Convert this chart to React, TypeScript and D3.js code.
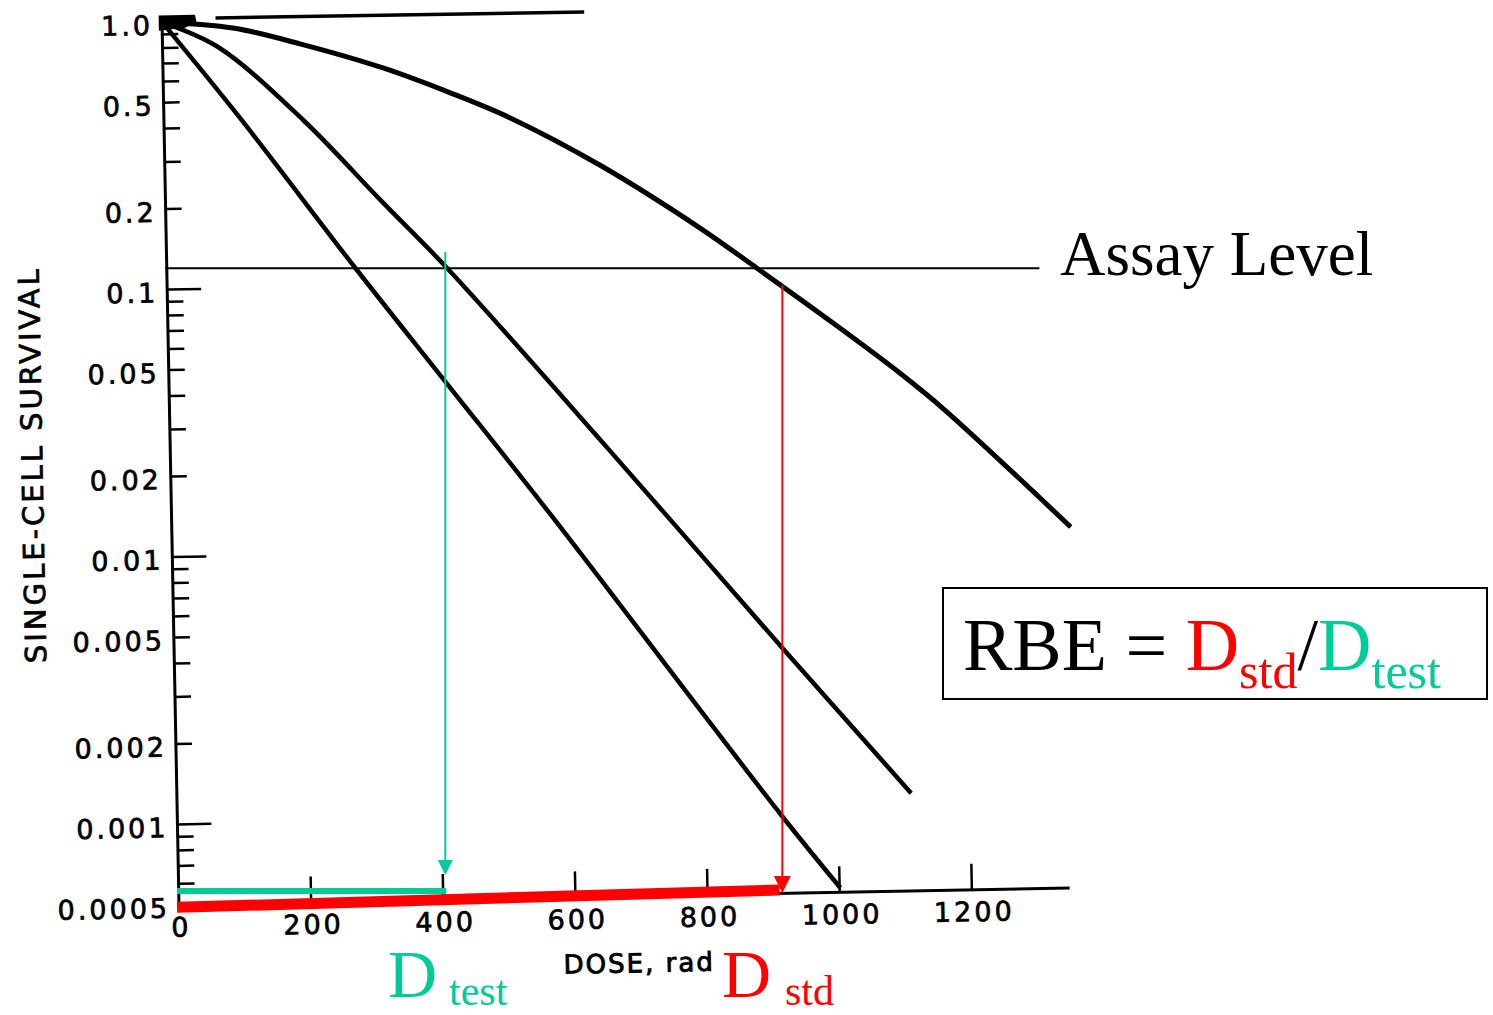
import React from "react";
import * as d3 from "d3";

// ---- data (dose in rad, single-cell survival fraction) ----
const steepCurve: [number, number][] = [
  [0, 1.0], [116, 0.43], [285, 0.117], [419, 0.043], [572, 0.0137], [914, 0.00098], [1001, 0.00052],
];
const middleCurve: [number, number][] = [
  [0, 1.0], [84, 0.8], [211, 0.42], [325, 0.209], [424, 0.115], [664, 0.0234], [919, 0.00417], [1111, 0.00116],
];
const shoulderCurve: [number, number][] = [
  [0, 1.0], [107, 0.94], [208, 0.811], [333, 0.65], [434, 0.519], [524, 0.414], [658, 0.272],
  [808, 0.1555], [893, 0.109], [1006, 0.0673], [1106, 0.0432], [1173, 0.0312], [1360, 0.01117],
];
const topLine: [number, number][] = [[81, 1.028], [639, 1.018]];
const originBlob: [number, number][] = [[-5, 1.06], [50, 1.06], [52, 1.0], [35, 0.95], [-5, 0.93]];

const yMajorTicks = [1.0, 0.5, 0.2, 0.1, 0.05, 0.02, 0.01, 0.005, 0.002, 0.001, 0.0005];
const yTickLabels = ["1.0", "0.5", "0.2", "0.1", "0.05", "0.02", "0.01", "0.005", "0.002", "0.001", "0.0005"];
const yDecadeTicks = [0.1, 0.01, 0.001];
const yMinorTicks = [
  0.9, 0.8, 0.7, 0.6, 0.4, 0.3,
  0.09, 0.08, 0.07, 0.06, 0.04, 0.03,
  0.009, 0.008, 0.007, 0.006, 0.004, 0.003,
  0.0009, 0.0008, 0.0007, 0.0006,
];
const xTicks = [0, 200, 400, 600, 800, 1000, 1200];
const xTickLabels = ["0", "200", "400", "600", "800", "1000", "1200"];
const xAxisEnd = 1348;
const yAxisTop = 1.03;

// overlay annotations
const assayLevel = 0.12;
const assaySpan = [-21, 1302];
const dTest = 403;
const dStd = 913;
const greenArrowTop = 0.138;
const greenArrowTip = 0.000647;
const redArrowTop = 0.104;
const redArrowTip = 0.000555;
const greenBarLevel = 0.000564;
const redBar: [number, number][] = [[0, 0.00049], [909, 0.000569]];

const GREEN = "#00CC99";
const RED = "#FF0000";

export default function App() {
  const W = 1493, H = 1015;
  const x = d3.scaleLinear().domain([0, 1200]).range([179, 972]);
  const y = d3.scaleLog().domain([0.0005, 1]).range([905, 22]);
  const line = d3.line<[number, number]>().x(d => x(d[0])).y(d => y(d[1])).curve(d3.curveCatmullRom.alpha(0.5));
  const poly = d3.line<[number, number]>().x(d => x(d[0])).y(d => y(d[1]));

  const tickFont = {
    fontFamily: "DejaVu Sans", fontSize: 27, letterSpacing: 3, stroke: "#000", strokeWidth: 0.7,
  } as const;
  const x0 = x(0);
  const yb = y(0.0005);

  const arrowHead = (cx: number, tipY: number, w: number, h: number, color: string) => (
    <path d={`M${cx - w / 2},${tipY - h} L${cx + w / 2},${tipY - h} L${cx},${tipY} Z`} fill={color} />
  );

  return (
    <svg width={W} height={H} style={{ position: "absolute", left: 0, top: 0, background: "#fff" }}>
      <rect width={W} height={H} fill="#fff" />
      {/* scanned plot, slightly rotated */}
      <g transform={`rotate(-1.1, ${x0}, ${yb})`}>
        {/* axes */}
        <line x1={x0} x2={x0} y1={y(yAxisTop)} y2={yb} stroke="#000" strokeWidth={3} />
        <line x1={x0} x2={x(xAxisEnd)} y1={yb} y2={yb} stroke="#000" strokeWidth={3} />
        {yMinorTicks.concat(yMajorTicks.filter(v => !yDecadeTicks.includes(v) && v !== 0.0005 && v !== 1.0)).map((v, i) => (
          <line key={"ym" + i} x1={x0} x2={x0 + 16} y1={y(v)} y2={y(v)} stroke="#000" strokeWidth={2.5} />
        ))}
        {yDecadeTicks.map((v, i) => (
          <line key={"yd" + i} x1={x0} x2={x0 + 34} y1={y(v)} y2={y(v)} stroke="#000" strokeWidth={2.5} />
        ))}
        {yMajorTicks.map((v, i) => (
          <text key={"yl" + i} x={x0 - 9} y={y(v) + 3} textAnchor="end" dominantBaseline="central" {...tickFont}>
            {yTickLabels[i]}
          </text>
        ))}
        {xTicks.filter(v => v > 0).map((v, i) => (
          <line key={"xt" + i} x1={x(v)} x2={x(v)} y1={yb} y2={yb - 26} stroke="#000" strokeWidth={2.5} />
        ))}
        {xTicks.map((v, i) => (
          <text key={"xl" + i} x={x(v) + 2} y={yb + 22} textAnchor="middle" dominantBaseline="central" {...tickFont}>
            {xTickLabels[i]}
          </text>
        ))}
        <text x={638} y={972} textAnchor="middle" dominantBaseline="central" fontFamily="DejaVu Sans"
          fontSize={26} letterSpacing={2} stroke="#000" strokeWidth={0.9}>DOSE, rad</text>
        <text transform={`translate(41, 462) rotate(-90)`} textAnchor="middle" dominantBaseline="central"
          fontFamily="DejaVu Sans" fontSize={29} letterSpacing={3} stroke="#000" strokeWidth={0.7}>SINGLE-CELL SURVIVAL</text>
        {/* curves */}
        <path d={poly(originBlob) || ""} fill="#000" />
        <path d={line(topLine) || ""} fill="none" stroke="#000" strokeWidth={3.5} />
        <path d={line(steepCurve) || ""} fill="none" stroke="#000" strokeWidth={4.5} />
        <path d={line(middleCurve) || ""} fill="none" stroke="#000" strokeWidth={4.5} />
        <path d={line(shoulderCurve) || ""} fill="none" stroke="#000" strokeWidth={5} />
      </g>

      {/* overlays */}
      <line x1={x(assaySpan[0])} x2={x(assaySpan[1])} y1={y(assayLevel)} y2={y(assayLevel)} stroke="#000" strokeWidth={2} />
      <text x={1060} y={275} fontFamily="Liberation Serif" fontSize={63}>Assay Level</text>

      <line x1={x(0) - 2} x2={x(dTest) + 1} y1={y(greenBarLevel)} y2={y(greenBarLevel)} stroke={GREEN} strokeWidth={6} />
      <line x1={x(redBar[0][0]) - 2} x2={x(redBar[1][0])} y1={y(redBar[0][1])} y2={y(redBar[1][1])} stroke={RED} strokeWidth={11} />

      <line x1={x(dTest)} x2={x(dTest)} y1={y(greenArrowTop)} y2={y(greenArrowTip) - 10} stroke={GREEN} strokeWidth={2} />
      {arrowHead(x(dTest), y(greenArrowTip), 15, 15, GREEN)}
      <line x1={x(dStd)} x2={x(dStd)} y1={y(redArrowTop)} y2={y(redArrowTip) - 10} stroke={RED} strokeWidth={2} />
      {arrowHead(x(dStd), y(redArrowTip), 17, 17, RED)}

      <text x={388} y={997} fontFamily="Liberation Serif" fontSize={68} fill={GREEN}>D</text>
      <text x={449} y={1005} fontFamily="Liberation Serif" fontSize={42} fill={GREEN}>test</text>
      <text x={722} y={997} fontFamily="Liberation Serif" fontSize={68} fill={RED}>D</text>
      <text x={785} y={1005} fontFamily="Liberation Serif" fontSize={42} fill={RED}>std</text>

      <rect x={943} y={588} width={544} height={111} fill="none" stroke="#000" strokeWidth={2} />
      <text x={963} y={670} fontFamily="Liberation Serif" fontSize={74} fill="#000">
        RBE = <tspan fill={RED}>D</tspan>
        <tspan fill={RED} fontSize={50} dy={18}>std</tspan>
        <tspan dy={-18}>/</tspan>
        <tspan fill={GREEN}>D</tspan>
        <tspan fill={GREEN} fontSize={50} dy={18}>test</tspan>
      </text>
    </svg>
  );
}
